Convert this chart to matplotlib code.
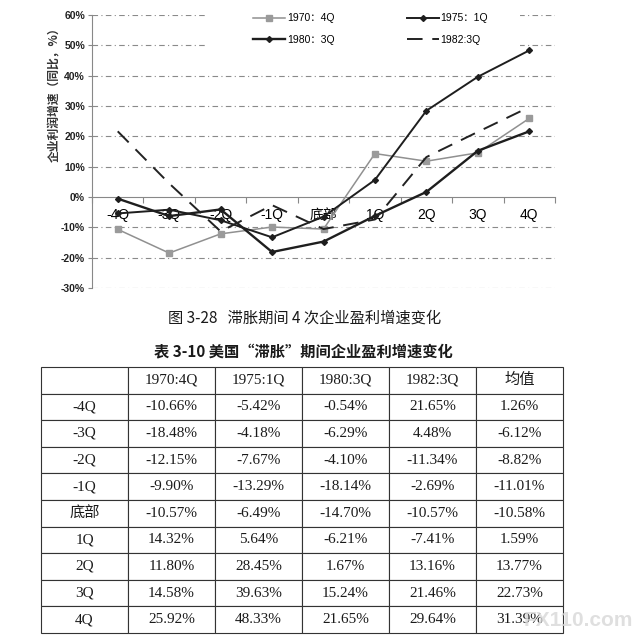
import matplotlib
matplotlib.use("Agg")
import matplotlib.pyplot as plt
from matplotlib.patches import Rectangle

# --- données (tableau 3-10) ---
categories = ["-4Q", "-3Q", "-2Q", "-1Q", "底部", "1Q", "2Q", "3Q", "4Q"]
s1970 = [-10.66, -18.48, -12.15, -9.90, -10.57, 14.32, 11.80, 14.58, 25.92]
s1975 = [-5.42, -4.18, -7.67, -13.29, -6.49, 5.64, 28.45, 39.63, 48.33]
s1980 = [-0.54, -6.29, -4.10, -18.14, -14.70, -6.21, 1.67, 15.24, 21.65]
s1982 = [21.65, 4.48, -11.34, -2.69, -10.57, -7.41, 13.16, 21.46, 29.64]
mean_vals = [1.26, -6.12, -8.82, -11.01, -10.58, 1.59, 13.77, 22.73, 31.39]
col_labels = ["1970:4Q", "1975:1Q", "1980:3Q", "1982:3Q", "均值"]
legend_labels = ["1970：4Q", "1975：1Q", "1980：3Q", "1982:3Q"]
yticks = [-30, -20, -10, 0, 10, 20, 30, 40, 50, 60]

SANS = ["Liberation Sans", "Noto Sans CJK SC", "DejaVu Sans"]
CJK = ["Noto Sans CJK SC", "DejaVu Sans"]
SERIF = ["Liberation Serif", "Noto Sans CJK SC", "DejaVu Sans"]
plt.rcParams['font.family'] = SANS

W = 639
fig = plt.figure(figsize=(6.39, 6.39), dpi=100)
fig.patch.set_facecolor("white")

# --- graphique ---
ax = fig.add_axes([92 / W, 1 - 288 / W, (555 - 92) / W, (288 - 15) / W])
x = list(range(len(categories)))

l1, = ax.plot(x, s1970, color="#909090", lw=1.1, marker="s", ms=4.5,
              mfc="#9a9a9a", mec="#9a9a9a", zorder=3)
l2, = ax.plot(x, s1975, color="#1e1e1e", lw=1.4, marker="D", ms=3,
              zorder=3)
l3, = ax.plot(x, s1980, color="#1e1e1e", lw=1.7, marker="D", ms=3,
              zorder=3)
l4, = ax.plot(x, s1982, color="#222222", lw=1.4, dashes=(8, 5), zorder=3)

ax.set_xlim(-0.5, len(categories) - 0.5)
ax.set_ylim(-30, 60)
ax.set_yticks(yticks)
ax.set_yticklabels([f"{v}%" for v in yticks], fontsize=7.5, fontweight="bold",
                   color="#222222")
ax.tick_params(axis="y", length=3, width=0.8, color="#888888", pad=2)

ax.set_xticks(x)
ax.set_xticklabels(categories, fontsize=7.5, fontweight="bold",
                   color="#222222", family=SANS)
ax.set_xticks([i - 0.5 for i in range(len(categories) + 1)], minor=True)
ax.tick_params(axis="x", which="major", length=0, pad=8)
ax.tick_params(axis="x", which="minor", length=4, width=0.8,
               color="#888888", direction="out")

for v in yticks:
    if v != 0:
        ax.axhline(v, color="#8a8a8a", lw=0.8, ls=(0, (5, 3, 1, 3)), zorder=1)

ax.spines["top"].set_visible(False)
ax.spines["right"].set_visible(False)
ax.spines["left"].set_color("#888888")
ax.spines["bottom"].set_position(("data", 0))
ax.spines["bottom"].set_color("#888888")

# fond blanc de la légende
ax.add_patch(Rectangle((205 / W, 1 - 52 / W), 315 / W, 52 / W,
                       transform=fig.transFigure, facecolor="white",
                       edgecolor="none", zorder=2, clip_on=False))
leg = ax.legend([l1, l3, l2, l4],
                [legend_labels[0], legend_labels[2], legend_labels[1], legend_labels[3]],
                ncol=2, frameon=False, loc="upper left",
                bbox_to_anchor=(244 / W, 1 - 4 / W),
                bbox_transform=fig.transFigure,
                prop={"family": SANS, "size": 7.5},
                handlelength=3.0, handletextpad=0.2, labelspacing=1.1,
                columnspacing=7.0)

fig.text(55 / W, 1 - 92 / W, "企业利润增速（同比，%）", rotation=90,
         ha="center", va="center", fontsize=8.5, fontweight="bold", family=CJK,
         color="#333333")

# --- titres ---
fig.text(305 / W, 1 - 318 / W, "图 3-28   滞胀期间 4 次企业盈利增速变化",
         ha="center", va="center", fontsize=11, fontweight="medium",
         family=CJK, color="#1a1a1a")
fig.text(303 / W, 1 - 352 / W, "表 3-10 美国“滞胀”期间企业盈利增速变化",
         ha="center", va="center", fontsize=11, fontweight="bold", family=CJK,
         color="#1a1a1a")

# --- tableau ---
tax = fig.add_axes([41 / W, 1 - 633 / W, (563 - 41) / W, (633 - 367) / W])
tax.axis("off")
rows = [[""] + col_labels]
for i, c in enumerate(categories):
    vals = [s1970[i], s1975[i], s1980[i], s1982[i], mean_vals[i]]
    rows.append([c] + [f"{v:.2f}%" for v in vals])
tbl = tax.table(cellText=rows, bbox=[0, 0, 1, 1], cellLoc="center")
tbl.auto_set_font_size(False)
for (r, c), cell in tbl.get_celld().items():
    cell.set_edgecolor("#333333")
    cell.set_linewidth(0.8)
    cell.get_text().set_fontsize(11)
    cell.get_text().set_family(SERIF)
    cell.get_text().set_color("#1a1a1a")

# filigrane
fig.text(578 / W, 1 - 620 / W, "FX110.com", ha="center", va="center",
         fontsize=15, fontweight="bold", color="#d8d8d8", alpha=0.8,
         zorder=10)

fig.savefig("out.png", dpi=100, facecolor="white")
